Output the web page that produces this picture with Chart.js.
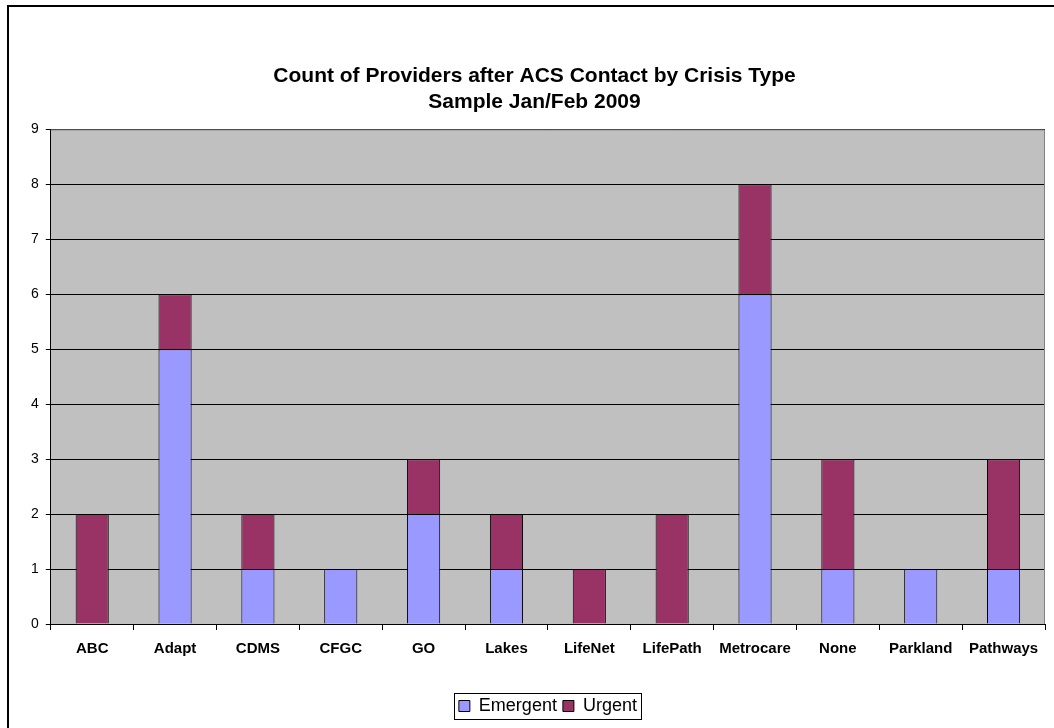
<!DOCTYPE html>
<html><head><meta charset="utf-8">
<script src="https://cdn.jsdelivr.net/npm/chart.js@4"></script>
<style>html,body{margin:0;padding:0;background:#fff;}canvas{display:block;}</style>
</head><body>
<canvas id="c" width="1054" height="728"></canvas>
<script>
const categories = ["ABC","Adapt","CDMS","CFGC","GO","Lakes","LifeNet","LifePath","Metrocare","None","Parkland","Pathways"];
const emergent = [0,5,1,1,2,1,0,0,6,1,1,1];
const urgent   = [2,1,1,0,1,1,1,2,2,2,0,2];
const titleLines = ["Count of Providers after ACS Contact by Crisis Type","Sample Jan/Feb 2009"];
const FONT = 'Liberation Sans, Arial, sans-serif';

const bgPlugin = {
  id:'bg',
  beforeDraw(chart){
    const ctx = chart.ctx, a = chart.chartArea;
    ctx.save();
    ctx.fillStyle = '#fff';
    ctx.fillRect(0,0,chart.width,chart.height);
    ctx.fillStyle = '#C0C0C0';
    ctx.fillRect(a.left,a.top,a.right-a.left,a.bottom-a.top);
    ctx.strokeStyle = '#000';
    ctx.lineWidth = 2;
    ctx.beginPath();
    ctx.moveTo(8, chart.height+5);
    ctx.lineTo(8, 6);
    ctx.lineTo(chart.width+5, 6);
    ctx.stroke();
    ctx.restore();
  },
  afterDatasetsDraw(chart){
    const ctx = chart.ctx, a = chart.chartArea;
    ctx.save();
    ctx.strokeStyle = '#808080';
    ctx.lineWidth = 1;
    ctx.beginPath();
    ctx.moveTo(a.left, a.top+0.5);
    ctx.lineTo(a.right-0.5, a.top+0.5);
    ctx.lineTo(a.right-0.5, a.bottom);
    ctx.stroke();
    ctx.restore();
  },
  afterDraw(chart){
    const l = chart.legend, ctx = chart.ctx;
    const hb = l.legendHitBoxes;
    if(!hb || !hb.length) return;
    let minX = Infinity, maxX = -Infinity, minY = Infinity, maxY = -Infinity;
    hb.forEach(h=>{minX=Math.min(minX,h.left);maxX=Math.max(maxX,h.left+h.width);minY=Math.min(minY,h.top);maxY=Math.max(maxY,h.top+h.height);});
    ctx.save();
    ctx.strokeStyle = '#000';
    ctx.lineWidth = 1;
    const x0 = Math.round(minX-5)+0.5, x1 = Math.round(maxX+4)+0.5;
    const y0 = Math.round(minY-4)+0.5, y1 = Math.round(maxY+4)+0.5;
    ctx.strokeRect(x0, y0, x1-x0, y1-y0);
    ctx.restore();
  }
};

new Chart(document.getElementById('c'), {
  type:'bar',
  data:{
    labels: categories,
    datasets:[
      {label:'Emergent', data: emergent, backgroundColor:'#9999FF', borderColor:'#000', borderWidth:1, barPercentage:0.4, categoryPercentage:1},
      {label:'Urgent', data: urgent, backgroundColor:'#993366', borderColor:'#000', borderWidth:1, barPercentage:0.4, categoryPercentage:1}
    ]
  },
  options:{
    responsive:false,
    animation:false,
    devicePixelRatio:1,
    layout:{padding:{left:24,right:9,top:0,bottom:3}},
    plugins:{
      title:{display:true, text:titleLines, color:'#000', font:{family:FONT, size:21, weight:'bold'}, lineHeight:1.19, padding:{top:64,bottom:15}},
      legend:{position:'bottom', fullSize:false, labels:{color:'#000', font:{family:FONT, size:18}, boxWidth:11, boxHeight:11, padding:6}},
      tooltip:{enabled:false}
    },
    scales:{
      x:{stacked:true,
        grid:{display:true, drawOnChartArea:false, color:'#000', tickLength:6, offset:true},
        border:{color:'#000'},
        ticks:{color:'#000', font:{family:FONT, size:15, weight:'bold'}, padding:10, maxRotation:0},
        afterFit(scale){ scale.height += 23; }
      },
      y:{stacked:true, min:0, max:9,
        grid:{color:'#000', tickLength:5},
        border:{color:'#000'},
        ticks:{stepSize:1, color:'#000', font:{family:FONT, size:14}, padding:7}
      }
    }
  },
  plugins:[bgPlugin]
});
</script>
</body></html>
